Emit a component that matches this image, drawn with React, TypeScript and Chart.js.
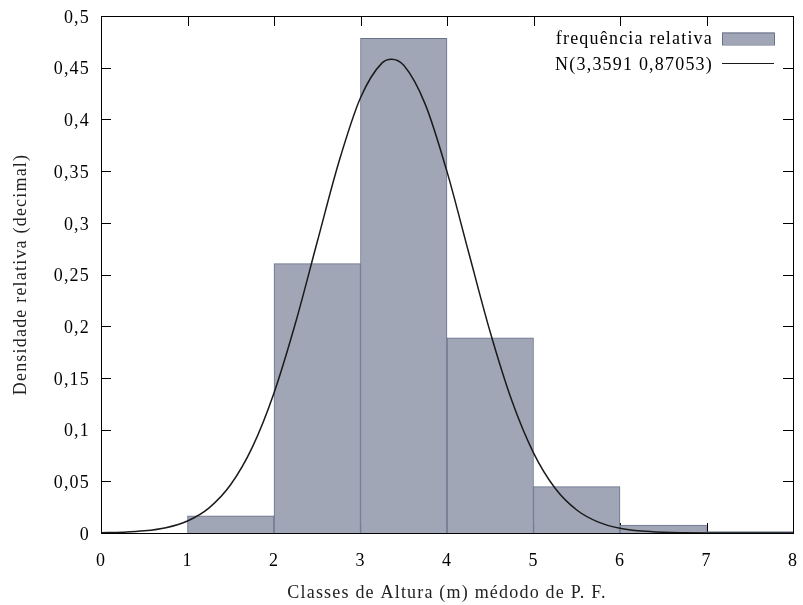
import React, { useEffect, useRef } from "react";
import { Chart, registerables } from "chart.js";

Chart.register(...registerables);

const binCenters = [1.5, 2.5, 3.5, 4.5, 5.5, 6.5, 7.5];
const relFreq = [0.0165, 0.2605, 0.4784, 0.1888, 0.0448, 0.0077, 0.0013];

const curveX = [0, 0.25, 0.5, 0.75, 1, 1.25, 1.5, 1.75, 2, 2.25, 2.5, 2.75, 3, 3.25, 3.3591, 3.5, 3.75, 4, 4.25, 4.5, 4.75, 5, 5.25, 5.5, 5.75, 6, 6.25, 6.5, 6.75, 7, 7.25, 7.5, 7.75, 8];
const curveY = [0.00027, 0.00078, 0.00208, 0.00514, 0.01166, 0.02435, 0.04686, 0.08301, 0.13546, 0.20354, 0.28162, 0.35877, 0.42089, 0.45469, 0.45827, 0.45231, 0.41432, 0.34948, 0.27147, 0.19415, 0.12787, 0.07756, 0.04332, 0.02227, 0.01055, 0.0046, 0.00185, 0.00068, 0.00023, 0.00007, 0.00002, 0.000005, 0.000001, 0];

const xTicks = [0, 1, 2, 3, 4, 5, 6, 7, 8];
const yTicks = [0, 0.05, 0.1, 0.15, 0.2, 0.25, 0.3, 0.35, 0.4, 0.45, 0.5];

const histLabel = "frequência relativa";
const curveLabel = "N(3,3591 0,87053)";
const xTitle = "Classes de Altura (m) médodo de P. F.";
const yTitle = "Densidade relativa (decimal)";

const FONT = "'Liberation Serif', 'DejaVu Serif', serif";
const SPACING = "1.2px";

const fmt = (v: number) => Number(v.toFixed(2)).toString().replace(".", ",");

const zeroPad = (s: any) => {
  s.paddingLeft = 0;
  s.paddingRight = 0;
  s.paddingTop = 0;
  s.paddingBottom = 0;
};

const ticksPlugin = {
  id: "inwardTicks",
  beforeDraw(chart: any) {
    try {
      chart.ctx.letterSpacing = SPACING;
    } catch (e) {}
  },
  beforeDatasetsDraw(chart: any) {
    const { ctx, chartArea: a, scales } = chart;
    const len = 10;
    ctx.save();
    ctx.strokeStyle = "#000";
    ctx.lineWidth = 1;
    ctx.beginPath();
    xTicks.forEach((t) => {
      const px = Math.round(scales.x.getPixelForValue(t)) + 0.5;
      ctx.moveTo(px, a.bottom);
      ctx.lineTo(px, a.bottom - len);
      ctx.moveTo(px, a.top);
      ctx.lineTo(px, a.top + len);
    });
    yTicks.forEach((t) => {
      const py = Math.round(scales.y.getPixelForValue(t)) + 0.5;
      ctx.moveTo(a.left, py);
      ctx.lineTo(a.left + len, py);
      ctx.moveTo(a.right, py);
      ctx.lineTo(a.right - len, py);
    });
    ctx.stroke();
    ctx.restore();
  },
  afterDatasetsDraw(chart: any) {
    const { ctx, chartArea: a } = chart;
    ctx.save();
    ctx.strokeStyle = "#000";
    ctx.lineWidth = 1;
    ctx.strokeRect(Math.round(a.left) + 0.5, Math.round(a.top) + 0.5, Math.round(a.right - a.left), Math.round(a.bottom - a.top));
    ctx.restore();
  },
  afterDraw(chart: any) {
    const { ctx, chartArea: a } = chart;
    const ds = chart.data.datasets;
    ctx.save();
    ctx.font = `18px ${FONT}`;
    ctx.fillStyle = "#000";
    ctx.textAlign = "right";
    ctx.textBaseline = "middle";
    const textRight = a.right - 80;
    const sx = a.right - 71;
    const sw = 52;
    const y1 = a.top + 22.5;
    const y2 = a.top + 47;
    ctx.fillText(ds[0].label, textRight, y1 + 1);
    ctx.fillStyle = ds[0].backgroundColor;
    ctx.fillRect(sx, y1 - 6, sw, 12);
    ctx.strokeStyle = ds[0].borderColor;
    ctx.lineWidth = 1;
    ctx.strokeRect(sx + 0.5, y1 - 6 + 0.5, sw, 12);
    ctx.fillStyle = "#000";
    ctx.fillText(ds[1].label, textRight, y2 + 2);
    ctx.strokeStyle = ds[1].borderColor;
    ctx.beginPath();
    ctx.moveTo(sx, y2 + 0.5);
    ctx.lineTo(sx + sw, y2 + 0.5);
    ctx.stroke();
    ctx.restore();
  },
};

export default function App() {
  const ref = useRef<HTMLCanvasElement | null>(null);
  useEffect(() => {
    document.body.style.margin = "0";
    const canvas = ref.current!;
    const chart = new Chart(canvas, {
      type: "bar",
      data: {
        datasets: [
          {
            type: "bar",
            label: histLabel,
            data: binCenters.map((x, i) => ({ x, y: relFreq[i] })),
            backgroundColor: "rgb(160,166,182)",
            borderColor: "rgb(105,114,138)",
            borderWidth: 1,
            barPercentage: 1,
            categoryPercentage: 1,
            order: 2,
          } as any,
          {
            type: "line",
            label: curveLabel,
            data: curveX.map((x, i) => ({ x, y: curveY[i] })),
            borderColor: "#1a1a1a",
            borderWidth: 1.5,
            pointRadius: 0,
            fill: false,
            cubicInterpolationMode: "monotone",
            order: 1,
          } as any,
        ],
      },
      options: {
        responsive: false,
        animation: false,
        layout: { padding: { top: 16, right: 10, left: 0, bottom: 0 } },
        plugins: { legend: { display: false }, tooltip: { enabled: false } },
        scales: {
          x: {
            type: "linear",
            min: 0,
            max: 8,
            offset: false,
            grid: { display: false, drawTicks: false },
            border: { display: false },
            afterFit: (s: any) => { s.height = 72; zeroPad(s); },
            afterBuildTicks: (s: any) => { s.ticks = xTicks.map((v) => ({ value: v })); },
            ticks: {
              padding: 17,
              color: "#000",
              font: { family: FONT, size: 18 },
              callback: (v: any) => String(v),
              maxRotation: 0,
            },
            title: {
              display: true,
              text: xTitle,
              color: "#222",
              font: { family: FONT, size: 18 },
              padding: { top: 0, bottom: 1 },
            },
          },
          y: {
            type: "linear",
            min: 0,
            max: 0.5,
            grid: { display: false, drawTicks: false },
            border: { display: false },
            afterFit: (s: any) => { s.width = 101; zeroPad(s); },
            afterBuildTicks: (s: any) => { s.ticks = yTicks.map((v) => ({ value: v })); },
            ticks: {
              padding: 11,
              labelOffset: 2,
              color: "#000",
              font: { family: FONT, size: 18 },
              callback: (v: any) => fmt(Number(v)),
            },
            title: {
              display: true,
              text: yTitle,
              color: "#222",
              font: { family: FONT, size: 18 },
              padding: { top: 10, bottom: 0 },
            },
          },
        },
      },
      plugins: [ticksPlugin],
    });
    return () => chart.destroy();
  }, []);
  return (
    <div style={{ width: 803, height: 605, position: "relative" }}>
      <canvas ref={ref} width={803} height={605} style={{ display: "block" }} />
    </div>
  );
}
